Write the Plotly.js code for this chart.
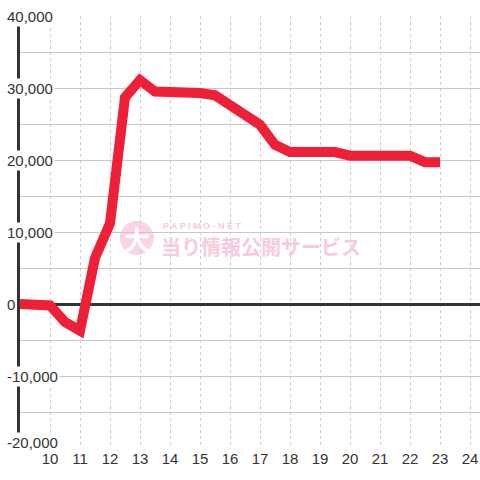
<!DOCTYPE html>
<html>
<head>
<meta charset="utf-8">
<script src="https://cdn.plot.ly/plotly-3.0.1.min.js"></script>
<style>html,body{margin:0;padding:0;background:#fff;}#chart{width:480px;height:480px;}</style>
</head>
<body>
<div id="chart"></div>
<script>
// Hour of day
var hours = [9, 10, 10.5, 11, 11.5, 12, 12.5, 13, 13.5, 14, 14.5, 15, 15.5, 16, 16.5, 17, 17.5, 18, 18.5, 19, 19.5, 20, 20.5, 21, 21.5, 22, 22.5, 23];
// Balance (medals)
var balance = [0, -200, -2500, -3700, 6400, 11200, 28700, 31100, 29500, 29500, 29300, 29300, 29000, 27700, 26300, 24900, 22100, 21100, 21100, 21100, 21100, 20600, 20600, 20600, 20600, 20600, 19700, 19700];
// Axis ticks
var xTickVals = [10, 11, 12, 13, 14, 15, 16, 17, 18, 19, 20, 21, 22, 23, 24];
var yTickVals = [-20000, -10000, 0, 10000, 20000, 30000, 40000];
var watermarkSmall = "PAPIMO-NET";
var watermarkBig = "当り情報公開サービス";
var watermarkLogo = "大";

var font = "Liberation Sans, Arial, sans-serif";

var trace = {
  x: hours, y: balance, type: "scatter", mode: "lines",
  line: {color: "#ee2038", width: 10, shape: "linear"},
  hoverinfo: "skip"
};

var annotations = yTickVals.map(function (v) {
  return {
    xref: "paper", yref: "y", x: 0, y: v, xanchor: "left", yanchor: "middle",
    xshift: -15, yshift: (v === -20000 ? 6 : 0),
    text: v.toLocaleString("en-US"), showarrow: false,
    bgcolor: "#ffffff", borderpad: 1,
    font: {family: font, size: 15, color: "#333333"}
  };
});
annotations.push({
  xref: "paper", yref: "paper", x: 0.254, y: 0.486, xanchor: "center", yanchor: "middle",
  text: "<b>" + watermarkLogo + "</b>", showarrow: false,
  font: {family: "Noto Sans CJK JP", size: 26, color: "#ffffff"}
});
annotations.push({
  xref: "paper", yref: "paper", x: (159 - 20) / 460, y: (448 - 246) / 432, xanchor: "left", yanchor: "middle",
  text: "<b>" + watermarkBig + "</b>", showarrow: false,
  font: {family: "Noto Sans CJK JP", size: 20, color: "#f9cadd"}
});
annotations.push({
  xref: "paper", yref: "paper", x: (161 - 20) / 460, y: (448 - 226) / 432, xanchor: "left", yanchor: "middle",
  text: "<b>" + watermarkSmall.split("").join(" ") + "</b>", showarrow: false,
  font: {family: font, size: 9, color: "#f9cadd"}
});

var layout = {
  width: 480, height: 480,
  margin: {l: 20, r: 0, t: 16, b: 32, pad: 0},
  paper_bgcolor: "#ffffff", plot_bgcolor: "#ffffff",
  showlegend: false,
  xaxis: {
    range: [9, 24.333], tickvals: xTickVals, ticktext: xTickVals.map(String),
    showgrid: true, gridcolor: "#cccccc", gridwidth: 1, griddash: "dot",
    zeroline: false, showline: false, ticks: "",
    tickfont: {family: font, size: 15, color: "#333333"},
    fixedrange: true
  },
  yaxis: {
    range: [-20000, 40000], dtick: 5000, tick0: 0,
    showgrid: true, gridcolor: "#c8c8c8", gridwidth: 1,
    zeroline: true, zerolinecolor: "#333333", zerolinewidth: 3,
    showline: true, linecolor: "#333333", linewidth: 3,
    showticklabels: false, ticks: "", fixedrange: true
  },
  shapes: [{
    type: "circle", xref: "paper", yref: "paper",
    x0: 0.254 - 17 / 460, x1: 0.254 + 17 / 460, y0: 0.486 - 17 / 432, y1: 0.486 + 17 / 432,
    fillcolor: "#fad3e4", line: {width: 0}, layer: "below"
  }],
  annotations: annotations
};

Plotly.newPlot("chart", [trace], layout, {staticPlot: true, displayModeBar: false});
</script>
</body>
</html>
